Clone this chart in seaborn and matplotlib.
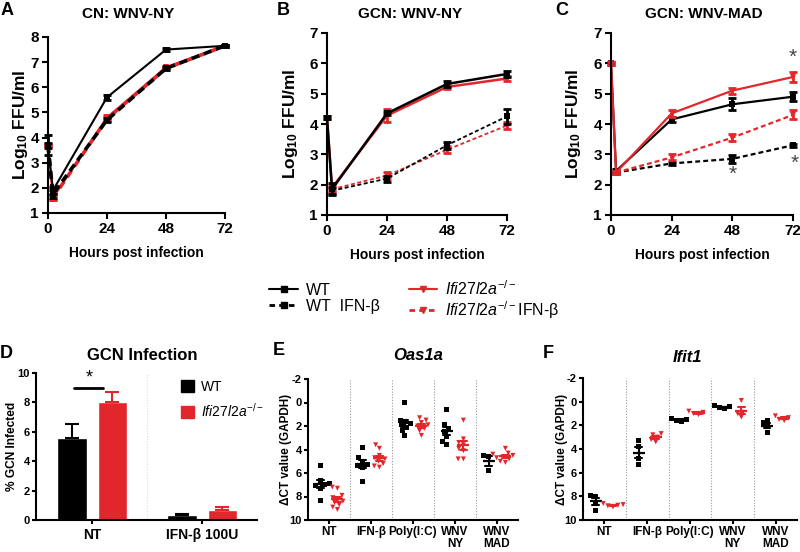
import matplotlib
matplotlib.use("Agg")
import matplotlib.pyplot as plt
from matplotlib.lines import Line2D
from matplotlib.patches import Patch
import numpy as np
import pandas as pd
import seaborn as sns

W, H = 800, 552
RED = "#e3262c"
BLACK = "#000000"
PAL = {"WT": BLACK, "KO": RED}

# --------------------------------------------------------------------------- #
# A-C: virus growth, mean log10 FFU/ml (NaN = no sample at that time)
# --------------------------------------------------------------------------- #
HOURS = [0, 2, 24, 48, 72]

A_WT         = [3.70, 1.90, 5.60, 7.50, 7.65]
A_WT_IFN     = [3.70, 1.75, 4.70, 6.75, 7.65]
A_KO         = [3.70, 1.60, 4.80, 6.80, 7.65]
A_KO_IFN     = [3.70, 1.60, 4.75, 6.75, 7.65]
A_WT_ERR     = [0.10, 0.15, 0.10, 0.05, 0.05]
A_WT_IFN_ERR = [0.40, 0.15, 0.08, 0.05, 0.05]
A_KO_ERR     = [0.05, 0.10, 0.10, 0.05, 0.05]
A_KO_IFN_ERR = [0.05, 0.10, 0.08, 0.05, 0.05]

B_WT         = [4.20, 1.85, 4.35, 5.32, 5.65]
B_WT_IFN     = [np.nan, 1.80, 2.20, 3.30, 4.25]
B_KO         = [4.20, 1.90, 4.28, 5.22, 5.50]
B_KO_IFN     = [np.nan, 1.85, 2.30, 3.15, 3.95]
B_WT_ERR     = [0.05, 0.20, 0.05, 0.10, 0.10]
B_WT_IFN_ERR = [0.00, 0.10, 0.10, 0.12, 0.25]
B_KO_ERR     = [0.05, 0.10, 0.20, 0.08, 0.08]
B_KO_IFN_ERR = [0.00, 0.08, 0.12, 0.12, 0.10]

C_WT         = [6.00, 2.45, 4.15, 4.65, 4.90]
C_WT_IFN     = [np.nan, 2.40, 2.70, 2.85, 3.30]
C_KO         = [6.00, 2.40, 4.35, 5.10, 5.55]
C_KO_IFN     = [np.nan, 2.40, 2.90, 3.55, 4.30]
C_WT_ERR     = [0.05, 0.08, 0.08, 0.20, 0.15]
C_WT_IFN_ERR = [0.00, 0.05, 0.05, 0.12, 0.05]
C_KO_ERR     = [0.05, 0.05, 0.12, 0.10, 0.15]
C_KO_IFN_ERR = [0.00, 0.05, 0.10, 0.12, 0.15]

# --------------------------------------------------------------------------- #
# D: % GCN infected (mean, SEM)
# --------------------------------------------------------------------------- #
D_GROUPS = ["NT", "IFN-β 100U"]
D_WT     = [5.6, 0.35]
D_WT_ERR = [0.9, 0.05]
D_KO     = [8.0, 0.70]
D_KO_ERR = [0.7, 0.20]

# --------------------------------------------------------------------------- #
# E-F: delta CT vs GAPDH, one value per well
# --------------------------------------------------------------------------- #
CONDS = ["NT", "IFN-β", "Poly(I:C)", "WNV NY", "WNV MAD"]
COND_LABELS = ["NT", "IFN-β", "Poly(I:C)", "WNV\nNY", "WNV\nMAD"]

E_WT = [
    [5.4, 6.6, 6.9, 7.0, 7.1, 7.3, 8.3],
    [3.8, 4.7, 5.0, 5.3, 5.4, 5.5, 6.7],
    [0.0, 1.5, 1.6, 1.8, 1.9, 2.1, 2.4, 2.8],
    [0.6, 1.9, 2.2, 2.5, 2.9, 3.3, 3.6],
    [4.5, 4.6, 5.8],
]
E_KO = [
    [7.2, 7.3, 7.9, 8.1, 8.2, 8.4, 8.5, 8.7, 8.9, 9.1],
    [3.6, 3.9, 4.5, 4.7, 4.8, 5.0, 5.2, 5.4, 5.5],
    [1.3, 1.5, 1.7, 1.9, 2.0, 2.2, 2.4, 2.8],
    [1.5, 3.1, 3.4, 3.6, 3.9, 4.1, 4.8, 4.8],
    [3.9, 4.3, 4.4, 4.5, 4.6, 4.7, 4.8, 5.0, 5.1],
]
F_WT = [
    [7.9, 8.0, 8.6, 9.2],
    [3.3, 3.8, 4.8, 5.3],
    [1.4, 1.5, 1.6, 1.7],
    [0.35, 0.45, 0.5, 0.6],
    [1.6, 1.8, 2.1, 2.6],
]
F_KO = [
    [8.6, 8.7, 8.75, 8.8, 8.9],
    [2.7, 2.8, 3.0, 3.2, 3.4],
    [0.8, 0.9, 1.0, 1.1],
    [-0.1, 0.9, 1.0, 1.3],
    [1.2, 1.35, 1.5, 1.6],
]

sns.set_style("ticks")
plt.rcParams.update({
    "font.family": ["Liberation Sans", "DejaVu Sans"],
    "axes.labelweight": "bold",
    "mathtext.fontset": "custom",
    "mathtext.rm": "Liberation Sans",
    "mathtext.it": "Liberation Sans:italic",
    "mathtext.bf": "Liberation Sans:bold",
    "mathtext.default": "regular",
    "axes.unicode_minus": False,
    "axes.linewidth": 1.5,
    "axes.edgecolor": "black",
    "axes.labelcolor": "black",
    "text.color": "black",
    "xtick.color": "black",
    "ytick.color": "black",
    "xtick.major.width": 1.5,
    "ytick.major.width": 1.5,
    "xtick.major.size": 4,
    "ytick.major.size": 4,
})


def rect(left, top, right, bottom):
    return [left / W, 1 - bottom / H, (right - left) / W, (bottom - top) / H]


def fig_text(fig, x, y, s, **kw):
    fig.text(x / W, 1 - y / H, s, **kw)


def bold_ticks(ax):
    for lbl in ax.get_xticklabels() + ax.get_yticklabels():
        lbl.set_fontweight("bold")


def plot_growth(ax, curves, lw_solid, lw_dash, ymax):
    for vals, errs, color, marker, dashed in curves:
        df = pd.DataFrame({"h": HOURS, "y": vals, "e": errs}).dropna()
        sns.lineplot(
            data=df, x="h", y="y", errorbar=None, color=color,
            linestyle=(0, (2.2, 1.4)) if dashed else "-",
            linewidth=lw_dash if dashed else lw_solid,
            marker=marker, markersize=4.5, markeredgewidth=0,
            clip_on=False, ax=ax,
        )
        ax.errorbar(df["h"], df["y"], yerr=df["e"], fmt="none", ecolor=color,
                    elinewidth=2, capsize=3, capthick=2, clip_on=False)
    ax.set_xlim(0, 72)
    ax.set_ylim(1, ymax)
    ax.set_xticks([0, 24, 48, 72])
    ax.set_yticks(range(1, ymax + 1))
    ax.tick_params(labelsize=11, pad=2.5)
    ax.set_xlabel("Hours post infection", fontsize=10, labelpad=7)
    ax.set_ylabel("Log$_{10}$ FFU/ml", fontsize=12.5)
    sns.despine(ax=ax)
    bold_ticks(ax)


def plot_gene(ax, wt_lists, ko_lists):
    rows = []
    for cond, wt, ko in zip(CONDS, wt_lists, ko_lists):
        rows += [(cond, "WT", v) for v in wt]
        rows += [(cond, "KO", v) for v in ko]
    df = pd.DataFrame(rows, columns=["cond", "geno", "dct"])
    for geno, mk in [("WT", "s"), ("KO", "v")]:
        sns.swarmplot(data=df[df["geno"] == geno], x="cond", y="dct", hue="geno",
                      order=CONDS, hue_order=["WT", "KO"], palette=PAL, dodge=True,
                      marker=mk, size=3.6, linewidth=0, legend=False, ax=ax)
    sns.pointplot(data=df, x="cond", y="dct", hue="geno", order=CONDS,
                  hue_order=["WT", "KO"], palette=PAL, errorbar="se", dodge=0.4,
                  markers="_", linestyles="none", capsize=0.16,
                  err_kws={"linewidth": 1.5}, markersize=9, markeredgewidth=1.6,
                  legend=False, ax=ax)
    for i in range(len(CONDS) - 1):
        ax.axvline(i + 0.5, color="#9a9a9a", lw=0.8, ls=(0, (1, 1.5)), zorder=0)
    ax.set_xlim(-0.5, len(CONDS) - 0.5)
    ax.set_ylim(10, -2)
    ax.set_yticks(range(-2, 11, 2))
    ax.set_xticks(range(len(CONDS)))
    ax.set_xticklabels(COND_LABELS, fontsize=8.5, linespacing=0.95)
    ax.tick_params(axis="x", length=3, pad=1.5)
    ax.tick_params(axis="y", labelsize=8, length=3, pad=1.5)
    ax.set_xlabel("")
    ax.set_ylabel("ΔCT value (GAPDH)", fontsize=8.5)
    sns.despine(ax=ax)
    bold_ticks(ax)


fig = plt.figure(figsize=(W / 100, H / 100), dpi=100)

ax_a = fig.add_axes(rect(48, 37, 225, 213))
ax_b = fig.add_axes(rect(327, 33, 507, 215))
ax_c = fig.add_axes(rect(611, 33, 793, 215))
ax_d = fig.add_axes(rect(36, 373, 257, 520))
ax_e = fig.add_axes(rect(308, 379, 518, 520))
ax_f = fig.add_axes(rect(583, 378, 797, 520))

plot_growth(ax_a, [
    (A_KO, A_KO_ERR, RED, "v", False),
    (A_KO_IFN, A_KO_IFN_ERR, RED, "v", True),
    (A_WT_IFN, A_WT_IFN_ERR, BLACK, "s", True),
    (A_WT, A_WT_ERR, BLACK, "s", False),
], 1.5, 2.6, 8)
plot_growth(ax_b, [
    (B_KO_IFN, B_KO_IFN_ERR, RED, "v", True),
    (B_WT_IFN, B_WT_IFN_ERR, BLACK, "s", True),
    (B_KO, B_KO_ERR, RED, "v", False),
    (B_WT, B_WT_ERR, BLACK, "s", False),
], 1.8, 1.3, 7)
plot_growth(ax_c, [
    (C_WT_IFN, C_WT_IFN_ERR, BLACK, "s", True),
    (C_WT, C_WT_ERR, BLACK, "s", False),
    (C_KO_IFN, C_KO_IFN_ERR, RED, "v", True),
    (C_KO, C_KO_ERR, RED, "v", False),
], 1.6, 1.6, 7)

# significance marks in C
star = dict(ha="center", va="center", fontsize=15, color="#444444")
ax_c.text(72, C_KO[-1] + C_KO_ERR[-1] + 0.5, "*", **star)
ax_c.text(72.5, C_WT_IFN[-1] - 0.6, "*", **star)
ax_c.text(48, C_WT_IFN[3] - 0.5, "*", **star)

# D: bar chart
df_d = pd.DataFrame({
    "treat": D_GROUPS * 2,
    "geno": ["WT"] * len(D_GROUPS) + ["KO"] * len(D_GROUPS),
    "pct": D_WT + D_KO,
})
sns.barplot(data=df_d, x="treat", y="pct", hue="geno", order=D_GROUPS,
            hue_order=["WT", "KO"], palette=PAL, saturation=1, width=0.74,
            gap=0.27, errorbar=None, legend=False, ax=ax_d)
centers = []
for cont, errs, col in zip(ax_d.containers, [D_WT_ERR, D_KO_ERR], [BLACK, RED]):
    cx = []
    for bar, e in zip(cont, errs):
        xc = bar.get_x() + bar.get_width() / 2
        cx.append(xc)
        ax_d.errorbar(xc, bar.get_height(), yerr=[[0], [e]], ecolor=col,
                      elinewidth=1.5, capsize=5, capthick=1.5)
    centers.append(cx)
x1, x2 = centers[0][0] + 0.025, centers[1][0] - 0.085
ysig = D_KO[0] + D_KO_ERR[0] + 0.25
ax_d.plot([x1, x2], [ysig, ysig], color="black", lw=2)
ax_d.text((x1 + x2) / 2, ysig + 0.1, "*", ha="center", va="bottom", fontsize=13)
ax_d.axvline(0.5, color="#dddddd", lw=0.8, ls=(0, (1, 1.5)), zorder=0)
ax_d.set_xlim(-0.51, 1.5)
ax_d.set_ylim(0, 10)
ax_d.set_yticks(range(0, 11, 2))
ax_d.tick_params(axis="x", labelsize=10, length=3, pad=2.5)
ax_d.tick_params(axis="y", labelsize=8, length=3, pad=1.5)
ax_d.set_xlabel("")
ax_d.set_ylabel("% GCN Infected", fontsize=8.6)
sns.despine(ax=ax_d)
bold_ticks(ax_d)
ax_d.legend(
    [Patch(color=BLACK), Patch(color=RED)],
    ["WT", r"$\mathit{Ifi27l2a}^{-/-}$"],
    loc="upper left", bbox_to_anchor=(0.6, 1.04), frameon=False,
    handlelength=0.9, handleheight=0.9, handletextpad=0.5, labelspacing=0.6,
    prop={"size": 10},
)

plot_gene(ax_e, E_WT, E_KO)
plot_gene(ax_f, F_WT, F_KO)

# axis label placement
for ax, xr in [(ax_a, -0.10), (ax_b, -0.15), (ax_c, -0.154),
               (ax_d, -0.081), (ax_e, -0.076), (ax_f, -0.07)]:
    ax.yaxis.set_label_coords(xr, 0.5)

# panel letters and titles
letter = dict(fontsize=13, fontweight="bold", ha="left", va="top")
for x, y, s in [(1, 2, "A"), (277, 2, "B"), (555, 2, "C"),
                (0, 345, "D"), (273, 342, "E"), (543, 345, "F")]:
    fig_text(fig, x, y, s, **letter)

title = dict(fontsize=11, fontweight="bold", ha="center", va="center")
fig_text(fig, 128, 14, "CN: WNV-NY", **title)
fig_text(fig, 410, 14, "GCN: WNV-NY", **title)
fig_text(fig, 704, 14, "GCN: WNV-MAD", **title)
fig_text(fig, 142, 355, "GCN Infection", fontsize=12, fontweight="bold", ha="center", va="center")
fig_text(fig, 418, 355, "Oas1a", fontsize=12, fontweight="bold", fontstyle="italic", ha="center", va="center")
fig_text(fig, 687, 357, "Ifit1", fontsize=12, fontweight="bold", fontstyle="italic", ha="center", va="center")

# shared legend for A-C
handles = [
    Line2D([], [], color=BLACK, lw=1.5, marker="s", ms=5),
    Line2D([], [], color=BLACK, lw=2, ls=(0, (2, 1.5)), marker="s", ms=5),
    Line2D([], [], color=RED, lw=1.5, marker="v", ms=5),
    Line2D([], [], color=RED, lw=2, ls=(0, (2, 1.5)), marker="v", ms=5),
]
labels = ["WT", "WT  IFN-β", r"$\mathit{Ifi27l2a}^{-/-}$", r"$\mathit{Ifi27l2a}^{-/-}$IFN-β"]
fig.legend(handles, labels, ncol=2, loc="upper left",
           bbox_to_anchor=(255 / W, 1 - 265 / H), frameon=False,
           prop={"size": 11.5}, handlelength=1.8,
           handletextpad=0.5, columnspacing=1.8, labelspacing=0.05)

fig.savefig("out.png", dpi=100)
